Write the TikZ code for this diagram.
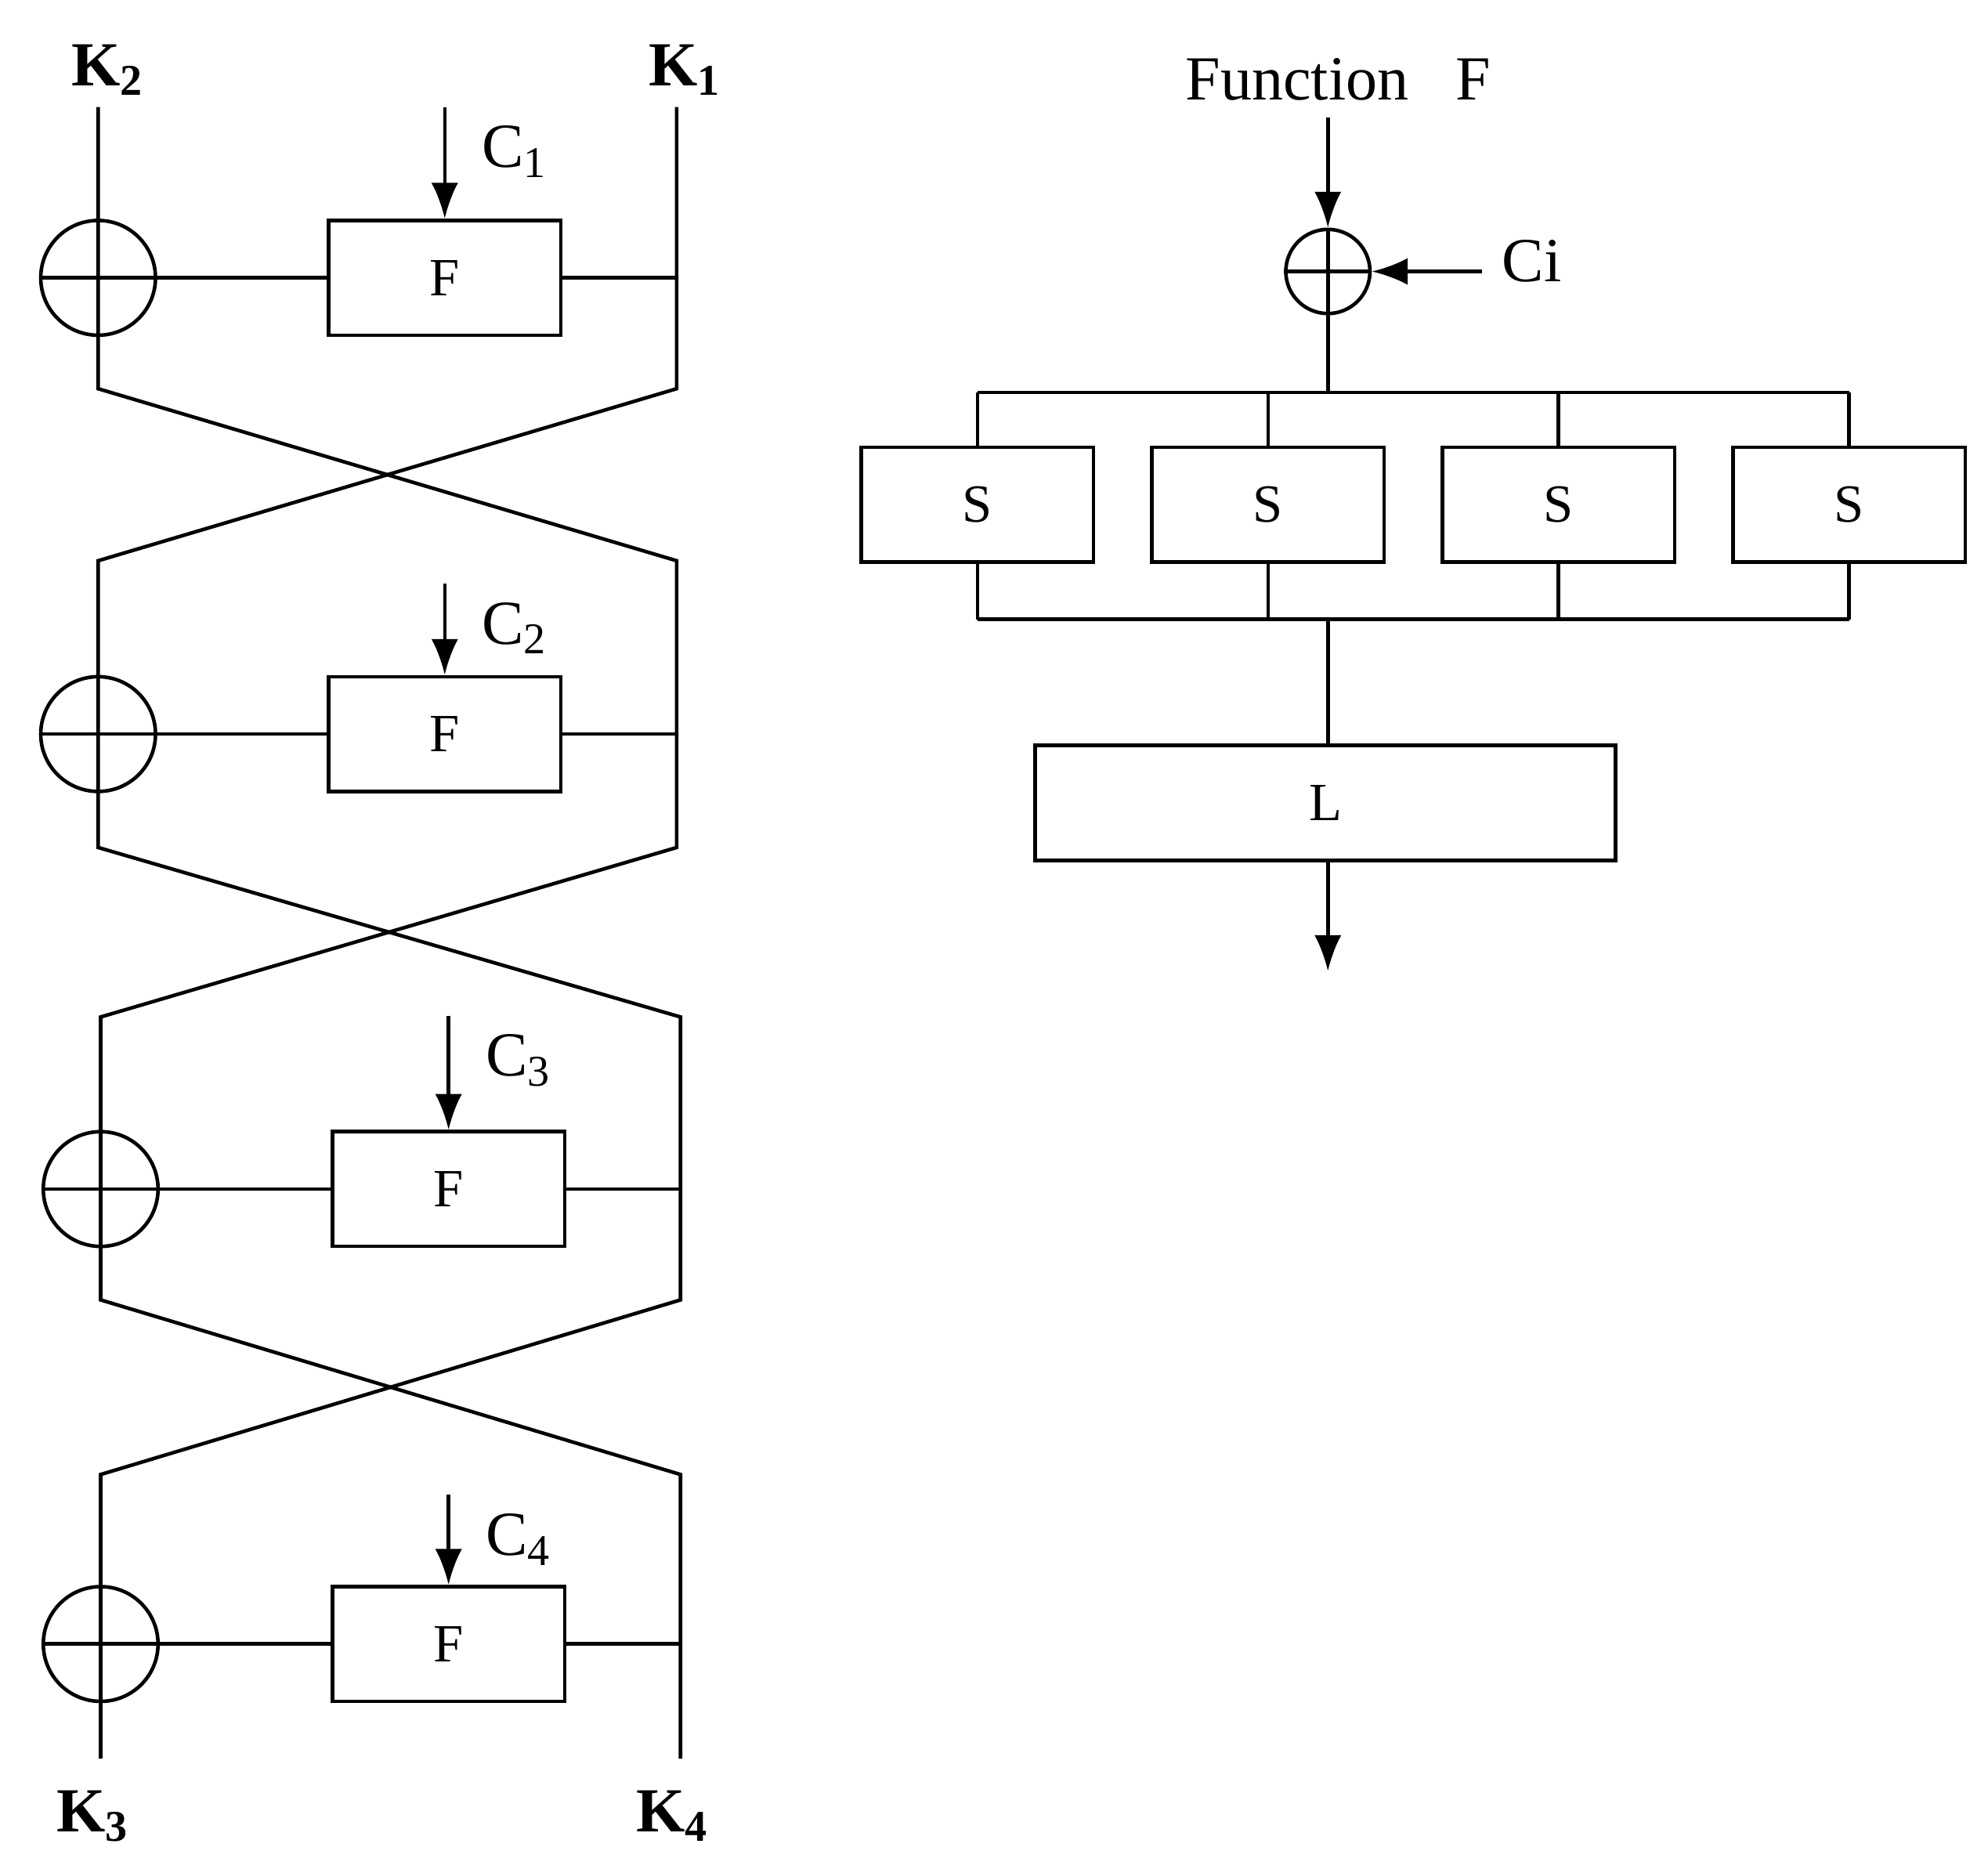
\documentclass[tikz,border=0pt]{standalone}
\usepackage{fontspec}
\setmainfont{Liberation Serif}
\usetikzlibrary{positioning,calc,arrows.meta}
\tikzset{
  fdiagram/.style={x=0.01cm,y=-0.01cm,line width=0.8pt,>={Latex[length=8pt,width=6pt]}}
  ,fbox/.style={draw,rectangle,minimum width=1.82cm,minimum height=0.9cm,font=\fontsize{12}{12}\selectfont}
  ,xorbig/.style={draw,circle,minimum size=0.9cm,inner sep=0pt}
  ,xorsmall/.style={draw,circle,minimum size=0.66cm,inner sep=0pt}
  ,lbl/.style={font=\fontsize{14}{14}\selectfont}
  ,key/.style={font=\fontsize{14}{14}\selectfont\bfseries}
}
\begin{document}
\begin{tikzpicture}[fdiagram]
  \useasboundingbox (0,0) rectangle (1560,1466);
  % left: four rounds
  \node[key] (k2) at (85,55) {K\textsubscript{2}};
  \node[key] (k1) at (538,55) {K\textsubscript{1}};
  \node[key] (k3) at (73,1425) {K\textsubscript{3}};
  \node[key] (k4) at (528,1425) {K\textsubscript{4}};
  \foreach \i/\y/\xl/\xr/\xf/\ya in {1/218/77/531/349/84,2/576/77/531/349/458,3/933/79/534/352/797,4/1290/79/534/352/1173}{
    \node[xorbig] (x\i) at (\xl,\y) {};
    \draw (x\i.west) -- (x\i.east);
    \node[fbox] (f\i) at (\xf,\y) {F};
    \draw (x\i.east) -- (f\i.west);
    \draw (f\i.east) -- (\xr,\y);
    \coordinate (c\i) at (\xf,\ya);
    \draw[->] (c\i) -- (f\i.north);
    \node[lbl] (cl\i) at (\xf+55,\ya+35) {C\textsubscript{\i}};
  }
  % crossing wires
  \draw (77,84) -- (77,305) -- (531,440) -- (531,665) -- (79,798) -- (79,1020) -- (534,1157) -- (534,1380);
  \draw (531,84) -- (531,305) -- (77,440) -- (77,665) -- (534,798) -- (534,1020) -- (79,1157) -- (79,1380);
  % right: function F
  \node[lbl] (fn) at (1050,62) {Function\ \ \ F};
  \node[xorsmall] (xf) at (1042,213) {};
  \draw (xf.north) -- (xf.south) (xf.west) -- (xf.east);
  \coordinate (fin) at (1042,92);
  \draw[->] (fin) -- (xf.north);
  \coordinate (cin) at (1163,213);
  \draw[->] (cin) -- (xf.east);
  \node[lbl] (ci) at (1202,205) {Ci};
  \foreach \i/\x in {1/767,2/995,3/1223,4/1451}{
    \node[fbox] (s\i) at (\x,396) {S};
    \draw (s\i.north) -- (\x,308);
    \draw (s\i.south) -- (\x,486);
  }
  \draw (xf.south) -- (1042,308);
  \draw (767,308) -- (1451,308);
  \draw (767,486) -- (1451,486);
  \node[fbox,minimum width=4.55cm] (l) at (1040,630) {L};
  \draw (1042,486) -- (l.north -| 1042,0);
  \coordinate (out) at (1042,762);
  \draw[->] (l.south -| 1042,0) -- (out);
\end{tikzpicture}
\end{document}
